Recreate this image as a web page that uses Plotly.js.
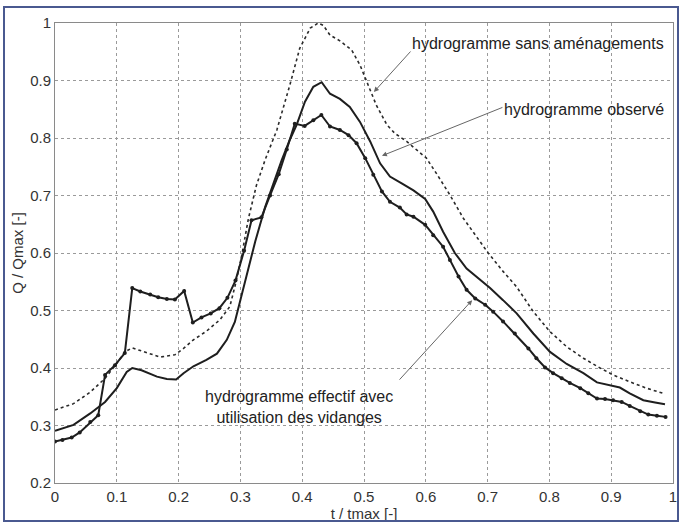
<!DOCTYPE html>
<html>
<head>
<meta charset="utf-8">
<script src="https://cdn.plot.ly/plotly-3.0.1.min.js"></script>
<style>
html,body{margin:0;padding:0;background:#fff;}
#chart{position:absolute;left:0;top:0;width:681px;height:525px;}
#frame{position:absolute;left:3px;top:6px;width:676px;height:516px;box-sizing:border-box;border:2px solid #4a5990;pointer-events:none;}
</style>
</head>
<body>
<div id="chart"></div>
<div id="frame"></div>
<script>
// hydrogramme sans aménagements (dotted)
const tSans = [0,0.03,0.057,0.081,0.1,0.113,0.125,0.143,0.17,0.194,0.208,0.224,0.245,0.267,0.283,0.293,0.302,0.313,0.326,0.34,0.359,0.38,0.396,0.413,0.426,0.434,0.445,0.461,0.48,0.4935,0.507,0.52,0.537,0.55,0.569,0.588,0.601,0.618,0.639,0.661,0.682,0.701,0.725,0.747,0.774,0.801,0.828,0.855,0.882,0.903,0.93,0.957,0.984];
const qSans = [0.327,0.338,0.358,0.382,0.408,0.428,0.435,0.429,0.419,0.423,0.434,0.449,0.464,0.484,0.507,0.55,0.595,0.66,0.718,0.762,0.814,0.892,0.956,0.991,1.0,0.996,0.979,0.969,0.953,0.927,0.892,0.857,0.823,0.808,0.794,0.776,0.765,0.737,0.701,0.66,0.628,0.6,0.568,0.541,0.498,0.463,0.437,0.417,0.4,0.388,0.376,0.365,0.356];

// hydrogramme observé (solid)
const tObs = [0,0.03,0.057,0.081,0.1,0.116,0.125,0.14,0.165,0.181,0.196,0.208,0.224,0.245,0.262,0.278,0.291,0.302,0.313,0.324,0.34,0.353,0.367,0.38,0.391,0.4045,0.418,0.4315,0.445,0.461,0.477,0.4935,0.51,0.526,0.542,0.561,0.58,0.599,0.612,0.628,0.647,0.666,0.688,0.704,0.725,0.747,0.774,0.801,0.828,0.855,0.877,0.898,0.914,0.93,0.952,0.971,0.987];
const qObs = [0.291,0.301,0.321,0.341,0.365,0.393,0.4,0.396,0.385,0.381,0.38,0.391,0.403,0.414,0.425,0.449,0.48,0.525,0.572,0.62,0.68,0.721,0.762,0.797,0.823,0.863,0.889,0.897,0.877,0.868,0.854,0.828,0.794,0.756,0.733,0.721,0.709,0.694,0.672,0.637,0.6,0.573,0.553,0.539,0.518,0.495,0.46,0.428,0.407,0.391,0.375,0.37,0.366,0.356,0.344,0.34,0.337];

// hydrogramme effectif avec utilisation des vidanges (solid with dots)
const tEff = [0,0.012,0.027,0.04,0.057,0.07,0.081,0.097,0.113,0.125,0.138,0.154,0.167,0.181,0.194,0.209,0.223,0.237,0.252,0.266,0.279,0.292,0.306,0.318,0.334,0.348,0.362,0.375,0.388,0.404,0.418,0.431,0.445,0.461,0.475,0.488,0.502,0.515,0.529,0.542,0.558,0.569,0.58,0.599,0.612,0.628,0.639,0.653,0.666,0.68,0.696,0.709,0.725,0.744,0.766,0.779,0.793,0.806,0.82,0.833,0.85,0.863,0.877,0.89,0.903,0.917,0.93,0.947,0.96,0.974,0.988];
const qEff = [0.272,0.275,0.279,0.288,0.306,0.318,0.388,0.405,0.426,0.539,0.533,0.528,0.523,0.52,0.519,0.534,0.479,0.488,0.495,0.504,0.522,0.552,0.604,0.657,0.662,0.7,0.737,0.78,0.825,0.821,0.831,0.84,0.82,0.814,0.805,0.791,0.765,0.736,0.707,0.689,0.679,0.667,0.663,0.649,0.631,0.611,0.588,0.559,0.536,0.521,0.51,0.498,0.481,0.46,0.434,0.417,0.401,0.391,0.382,0.374,0.365,0.356,0.347,0.346,0.344,0.341,0.334,0.325,0.319,0.317,0.315];

const xTicks = [0,0.1,0.2,0.3,0.4,0.5,0.6,0.7,0.8,0.9,1];
const yTicks = [0.2,0.3,0.4,0.5,0.6,0.7,0.8,0.9,1];

const lineCol = '#1e1e1e';
const traces = [
  {x:tSans, y:qSans, mode:'lines', line:{color:'#2a2a2a', width:1.6, dash:'dot'}, name:'sans'},
  {x:tObs, y:qObs, mode:'lines', line:{color:lineCol, width:2}, name:'observé'},
  {x:tEff, y:qEff, mode:'lines+markers', line:{color:lineCol, width:2}, marker:{color:lineCol, size:4}, name:'effectif'}
];

const font = {family:'"Liberation Sans", Arial, sans-serif', size:15, color:'#333'};
const axisCommon = {
  showline:true, mirror:true, linecolor:'#8a8a8a', linewidth:1,
  showgrid:true, gridcolor:'#9a9a9a', griddash:'dot', gridwidth:1,
  zeroline:false, ticks:'', tickfont:font, fixedrange:true
};
const annFont = {family:'"Liberation Sans", Arial, sans-serif', size:16, color:'#222'};
const arrowCommon = {showarrow:true, text:'', arrowhead:2, arrowsize:1, arrowwidth:1, arrowcolor:'#666', xref:'x', yref:'y', axref:'pixel', ayref:'pixel'};

const layout = {
  width:681, height:525,
  margin:{l:55, r:8, t:23, b:42},
  paper_bgcolor:'#fff', plot_bgcolor:'#fff',
  showlegend:false,
  font:font,
  xaxis:Object.assign({}, axisCommon, {range:[0,1], tickvals:xTicks, title:{text:'t / tmax [-]', font:font, standoff:1}}),
  yaxis:Object.assign({}, axisCommon, {range:[0.2,1], tickvals:yTicks, title:{text:'Q / Qmax [-]', font:font, standoff:2}}),
  annotations:[
    {x:0.782, y:0.9635, xref:'x', yref:'y', text:'hydrogramme sans aménagements', showarrow:false, font:annFont},
    {x:0.856, y:0.85, xref:'x', yref:'y', text:'hydrogramme observé', showarrow:false, font:annFont},
    {x:0.395, y:0.332, xref:'x', yref:'y', text:'hydrogramme effectif avec<br>utilisation des vidanges', showarrow:false, font:annFont, align:'center'},
    Object.assign({}, arrowCommon, {x:0.516, y:0.88, ax:38, ay:-42}),
    Object.assign({}, arrowCommon, {x:0.529, y:0.769, ax:122, ay:-49}),
    Object.assign({}, arrowCommon, {x:0.675, y:0.518, ax:-74, ay:81})
  ]
};

Plotly.newPlot('chart', traces, layout, {displayModeBar:false, staticPlot:true});
</script>
</body>
</html>
